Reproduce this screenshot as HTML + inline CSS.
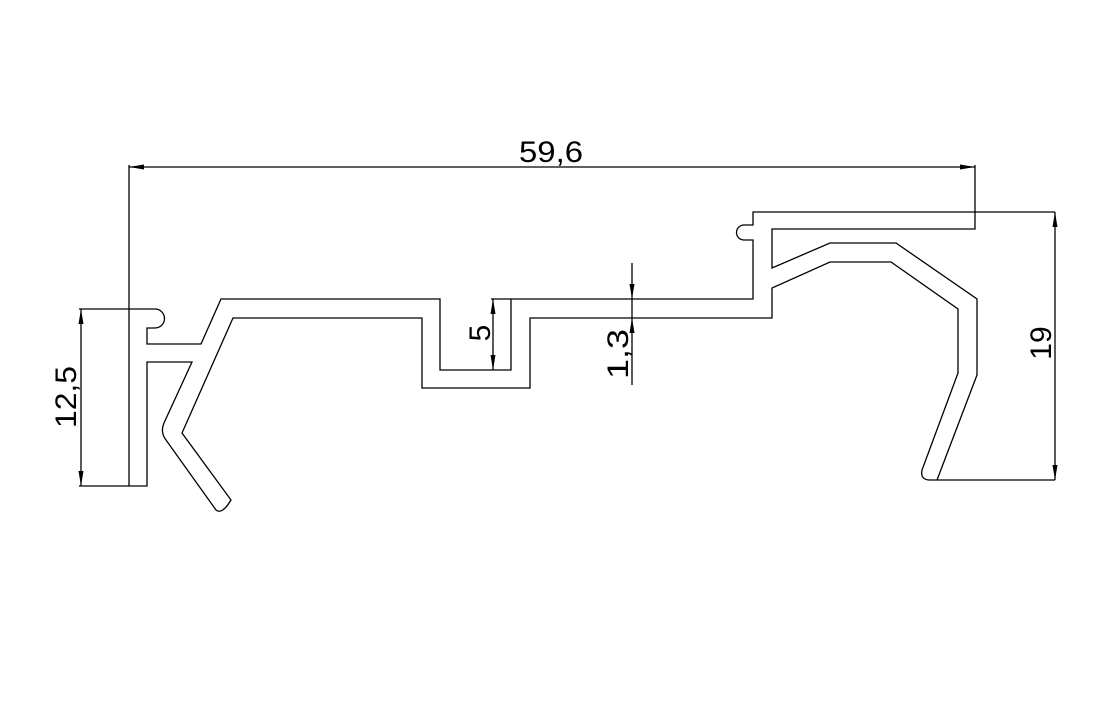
<!DOCTYPE html>
<html><head><style>html,body{margin:0;background:#fff}</style></head><body>
<svg width="1115" height="704" viewBox="0 0 1115 704" xmlns="http://www.w3.org/2000/svg">
<defs>
<marker id="a" viewBox="0 0 15 5" refX="15" refY="2.5" markerWidth="15" markerHeight="5" markerUnits="userSpaceOnUse" orient="auto-start-reverse"><path d="M0,0L15,2.5L0,5z" fill="#000"/></marker>
</defs>
<g fill="none" stroke="#000" stroke-width="1.3">
<path d="M129,165V486H147V362H192L164,423Q160,432 166,440L216,510Q222,515 231,500L182,433L233,318H422V388H530V318H772V288L830,262H891L958,309V373L922,470Q920,480 930,480H1055"/>
<path d="M129,309H155A9.5,9.5 0 0 1 155,328H147V344H201L221,299H440V370H511V299H753V240H744A7.5,7.5 0 0 1 744,225H753V212H1055"/>
<path d="M937,480L977,375V299L896,243H830L772,268V229H975V165"/>
<path d="M79,309H129M79,486H129"/>
<path d="M81,309V486" marker-start="url(#a)" marker-end="url(#a)"/>
<path d="M129,167H975" marker-start="url(#a)" marker-end="url(#a)"/>
<path d="M1055,212V480" marker-start="url(#a)" marker-end="url(#a)"/>
<path d="M491,299H511"/>
<path d="M493,299V370" marker-start="url(#a)" marker-end="url(#a)"/>
<path d="M632,263V299" marker-end="url(#a)"/>
<path d="M632,385V318" marker-end="url(#a)"/>
<path d="M632,299V318"/>
</g>
<g font-family="Liberation Sans, sans-serif" font-size="30" fill="#000" text-anchor="middle">
<text x="551" y="162" textLength="64" lengthAdjust="spacingAndGlyphs">59,6</text>
<text transform="translate(76,397) rotate(-90)" textLength="62" lengthAdjust="spacingAndGlyphs">12,5</text>
<text transform="translate(1051,343) rotate(-90)">19</text>
<text transform="translate(490,333) rotate(-90)">5</text>
<text transform="translate(628,354) rotate(-90)" textLength="50" lengthAdjust="spacingAndGlyphs">1,3</text>
</g>
</svg>
</body></html>
